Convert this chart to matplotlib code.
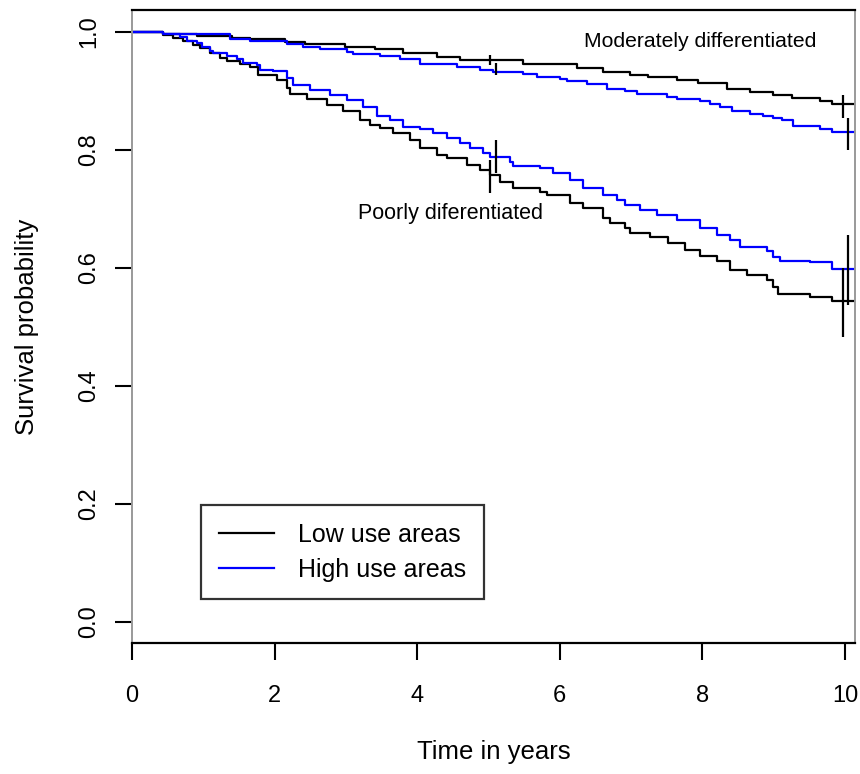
import matplotlib
matplotlib.use("Agg")
import matplotlib.pyplot as plt
from matplotlib.lines import Line2D

plt.rcParams['font.family'] = ['Liberation Sans', 'DejaVu Sans']

# ---- data ----
# Moderately differentiated, low use areas
mod_low_t = [0, 0.43, 0.91, 1.40, 1.65, 2.14, 2.43, 2.99, 3.41, 3.80, 4.28, 4.60, 5.48,
             6.24, 6.61, 6.98, 7.24, 7.64, 7.94, 8.35, 8.67, 8.99, 9.26, 9.65, 9.82, 10.2]
mod_low_s = [1.0, 0.997, 0.993, 0.990, 0.988, 0.983, 0.979, 0.975, 0.971, 0.964, 0.958, 0.953, 0.946,
             0.938, 0.932, 0.927, 0.923, 0.919, 0.914, 0.903, 0.898, 0.893, 0.888, 0.882, 0.877, 0.877]

# Moderately differentiated, high use areas
mod_high_t = [0, 0.43, 1.37, 1.65, 2.17, 2.40, 2.64, 3.02, 3.10, 3.48, 3.76, 4.04, 4.56, 4.88,
              5.06, 5.48, 5.68, 6.00, 6.10, 6.38, 6.66, 6.91, 7.08, 7.50, 7.64, 7.97, 8.11,
              8.25, 8.42, 8.67, 8.85, 8.99, 9.12, 9.27, 9.65, 9.82, 10.2]
mod_high_s = [1.0, 0.997, 0.988, 0.985, 0.979, 0.975, 0.971, 0.966, 0.962, 0.959, 0.954, 0.946, 0.941, 0.936,
              0.932, 0.929, 0.924, 0.920, 0.916, 0.912, 0.903, 0.899, 0.895, 0.889, 0.886, 0.882, 0.878,
              0.873, 0.865, 0.861, 0.858, 0.854, 0.850, 0.841, 0.835, 0.831, 0.831]

# Poorly differentiated, low use areas
poor_low_t = [0, 0.43, 0.58, 0.72, 0.86, 0.95, 1.09, 1.23, 1.33, 1.51, 1.65, 1.77, 2.03, 2.17, 2.22,
              2.45, 2.73, 2.96, 3.20, 3.34, 3.48, 3.66, 3.90, 4.04, 4.28, 4.42, 4.70, 4.88, 5.02,
              5.16, 5.34, 5.72, 5.82, 6.14, 6.33, 6.61, 6.70, 6.91, 6.98, 7.27, 7.52, 7.76, 7.97,
              8.20, 8.39, 8.63, 8.91, 8.99, 9.06, 9.51, 9.82, 10.2]
poor_low_s = [1.0, 0.995, 0.989, 0.984, 0.978, 0.972, 0.964, 0.955, 0.950, 0.945, 0.940, 0.927, 0.919, 0.905, 0.895,
              0.886, 0.876, 0.865, 0.851, 0.842, 0.837, 0.828, 0.817, 0.803, 0.792, 0.786, 0.775, 0.766, 0.758,
              0.746, 0.735, 0.729, 0.724, 0.710, 0.701, 0.684, 0.676, 0.667, 0.659, 0.653, 0.642, 0.631, 0.620,
              0.611, 0.597, 0.588, 0.580, 0.568, 0.556, 0.551, 0.544, 0.544]

# Poorly differentiated, high use areas
poor_high_t = [0, 0.43, 0.67, 0.77, 0.91, 0.98, 1.09, 1.14, 1.33, 1.47, 1.56, 1.75, 1.80, 1.98, 2.17,
               2.26, 2.50, 2.78, 3.02, 3.24, 3.44, 3.62, 3.80, 4.04, 4.22, 4.42, 4.60, 4.74, 4.92,
               5.02, 5.30, 5.34, 5.72, 5.90, 6.14, 6.33, 6.61, 6.80, 6.91, 7.12, 7.36, 7.64, 7.97,
               8.20, 8.39, 8.53, 8.91, 8.99, 9.09, 9.51, 9.82, 10.2]
poor_high_s = [1.0, 0.996, 0.991, 0.985, 0.981, 0.975, 0.968, 0.964, 0.959, 0.954, 0.948, 0.944, 0.936, 0.933, 0.921,
               0.910, 0.902, 0.893, 0.885, 0.872, 0.858, 0.851, 0.839, 0.835, 0.828, 0.820, 0.811, 0.803, 0.794,
               0.788, 0.780, 0.772, 0.769, 0.760, 0.749, 0.735, 0.724, 0.715, 0.707, 0.698, 0.690, 0.681, 0.667,
               0.656, 0.647, 0.636, 0.628, 0.619, 0.612, 0.609, 0.598, 0.598]

# Confidence bars at 5 and 10 years
bar_x = [5.02, 5.10, 5.10, 5.02, 9.97, 10.04, 10.04, 9.97]
bar_lo = [0.944, 0.926, 0.761, 0.727, 0.854, 0.800, 0.537, 0.483]
bar_hi = [0.961, 0.947, 0.817, 0.783, 0.893, 0.854, 0.656, 0.600]

x_ticks = [0, 2, 4, 6, 8, 10]
y_ticks = [0.0, 0.2, 0.4, 0.6, 0.8, 1.0]
y_tick_labels = ["0.0", "0.2", "0.4", "0.6", "0.8", "1.0"]
legend_labels = ["Low use areas", "High use areas"]

# ---- figure ----
fig = plt.figure(figsize=(8.6, 7.74), dpi=100)
ax = fig.add_axes([132/860, 1 - 643/774, (855-132)/860, (643-10)/774])

lw = 1.6
ax.plot(mod_low_t, mod_low_s, drawstyle='steps-post', color='black', lw=lw)
ax.plot(mod_high_t, mod_high_s, drawstyle='steps-post', color='#0000ff', lw=lw)
ax.plot(poor_low_t, poor_low_s, drawstyle='steps-post', color='black', lw=lw)
ax.plot(poor_high_t, poor_high_s, drawstyle='steps-post', color='#0000ff', lw=lw)
ax.vlines(bar_x, bar_lo, bar_hi, color='black', lw=lw)

ax.set_xlim(0, 10.14)
ax.set_ylim(-0.036, 1.037)
ax.set_xticks(x_ticks)
ax.set_yticks(y_ticks)
ax.set_yticklabels(y_tick_labels, rotation=90, va='center')
ax.tick_params(axis='both', length=12.2, width=1.5, labelsize=17)
ax.tick_params(axis='y', pad=10.4)
ax.tick_params(axis='x', pad=18)

for side in ['left', 'right']:
    ax.spines[side].set_color('#999999')
    ax.spines[side].set_linewidth(1.4)
for side in ['top', 'bottom']:
    ax.spines[side].set_color('black')
    ax.spines[side].set_linewidth(1.6)

ax.set_xlabel("Time in years", fontsize=18.5, va='center')
ax.xaxis.set_label_coords(0.5, (643 - 752) / 633)
ax.set_ylabel("Survival probability", fontsize=18.5, va='center')
ax.yaxis.set_label_coords((27 - 132) / 723, 0.5)

ax.text(7.97, 0.983, "Moderately differentiated", fontsize=15.2, ha='center', va='center')
ax.text(4.46, 0.692, "Poorly diferentiated", fontsize=15.5, ha='center', va='center')

handles = [Line2D([], [], color='black', lw=lw), Line2D([], [], color='#0000ff', lw=lw)]
leg = ax.legend(handles, legend_labels, loc='upper left',
                bbox_to_anchor=((201-132)/723, (643-505)/633),
                fontsize=18, frameon=True, fancybox=False, handlelength=2.2,
                handletextpad=1.0, borderpad=0.7, labelspacing=0.45, borderaxespad=0)
leg.get_frame().set_edgecolor('black')
leg.get_frame().set_linewidth(1.6)

fig.savefig("out.png", dpi=100)
